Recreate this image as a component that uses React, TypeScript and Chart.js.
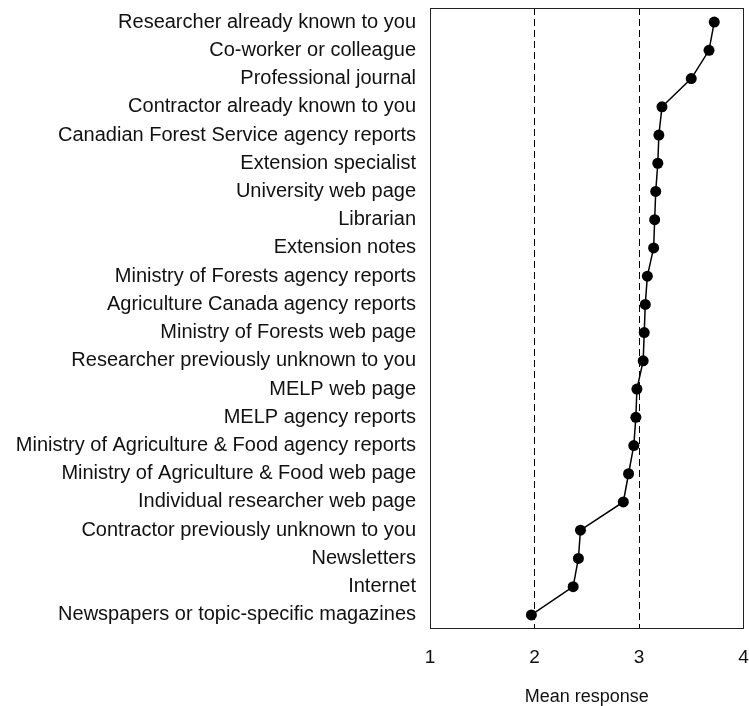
import React, { useEffect, useRef } from "react";
import { Chart, registerables } from "chart.js";

Chart.register(...registerables);

const categories: string[] = [
  "Researcher already known to you",
  "Co-worker or colleague",
  "Professional journal",
  "Contractor already known to you",
  "Canadian Forest Service agency reports",
  "Extension specialist",
  "University web page",
  "Librarian",
  "Extension notes",
  "Ministry of Forests agency reports",
  "Agriculture Canada agency reports",
  "Ministry of Forests web page",
  "Researcher previously unknown to you",
  "MELP web page",
  "MELP agency reports",
  "Ministry of Agriculture & Food agency reports",
  "Ministry of Agriculture & Food web page",
  "Individual researcher web page",
  "Contractor previously unknown to you",
  "Newsletters",
  "Internet",
  "Newspapers or topic-specific magazines",
];

const meanResponse: number[] = [
  3.72, 3.67, 3.5, 3.22, 3.19, 3.18, 3.16, 3.15, 3.14, 3.08, 3.06, 3.05, 3.04,
  2.98, 2.97, 2.95, 2.9, 2.85, 2.44, 2.42, 2.37, 1.97,
];

const xTicks: number[] = [1, 2, 3, 4];
const referenceLines: number[] = [2, 3];
const xTitle = "Mean response";

const FONT = "'Liberation Sans', Arial, sans-serif";

const framePlugin = {
  id: "frame",
  beforeDatasetsDraw(chart: any) {
    const { ctx, chartArea } = chart;
    ctx.save();
    ctx.strokeStyle = "#222";
    ctx.lineWidth = 1;
    ctx.setLineDash([]);
    ctx.strokeRect(
      Math.round(chartArea.left) + 0.5,
      Math.round(chartArea.top) + 0.5,
      Math.round(chartArea.right - chartArea.left) - 1,
      Math.round(chartArea.bottom - chartArea.top) - 1
    );
    ctx.restore();
  },
};

function zeroPadding(scale: any) {
  scale.paddingTop = 0;
  scale.paddingBottom = 0;
  scale.paddingLeft = 0;
  scale.paddingRight = 0;
}

export default function App() {
  const ref = useRef<HTMLCanvasElement | null>(null);

  useEffect(() => {
    if (!ref.current) return;
    const chart = new Chart(ref.current, {
      type: "line",
      data: {
        labels: categories,
        datasets: [
          {
            data: meanResponse,
            borderColor: "#000",
            borderWidth: 1.5,
            backgroundColor: "#000",
            pointBackgroundColor: "#000",
            pointBorderColor: "#000",
            pointRadius: 5.5,
            pointBorderWidth: 0,
            tension: 0,
            fill: false,
          },
        ],
      },
      plugins: [framePlugin],
      options: {
        responsive: false,
        animation: false,
        indexAxis: "y",
        layout: { padding: { top: 8, right: 1, bottom: 0, left: 0 } },
        plugins: {
          legend: { display: false },
          tooltip: { enabled: false },
        },
        scales: {
          y: {
            type: "category",
            labels: categories,
            offset: true,
            grid: { display: false, drawTicks: false },
            border: { display: false },
            ticks: {
              color: "#111",
              padding: 14,
              autoSkip: false,
              font: { family: FONT, size: 20 },
            },
            afterFit(scale: any) {
              scale.width = 430;
              zeroPadding(scale);
            },
          },
          x: {
            type: "linear",
            min: 1,
            max: 4,
            afterBuildTicks(scale: any) {
              scale.ticks = xTicks.map((v) => ({ value: v }));
            },
            grid: {
              drawTicks: false,
              lineWidth: 1,
              color: (ctx: any) =>
                ctx.tick && referenceLines.includes(ctx.tick.value)
                  ? "#000"
                  : "rgba(0,0,0,0)",
            },
            border: { display: false, dash: [7, 4] },
            ticks: {
              color: "#111",
              padding: 17,
              font: { family: FONT, size: 19 },
            },
            title: {
              display: true,
              text: xTitle,
              color: "#111",
              padding: { top: 0, bottom: 0 },
              font: { family: FONT, size: 18, lineHeight: 1 },
            },
            afterFit(scale: any) {
              scale.height = 77;
              zeroPadding(scale);
            },
          },
        },
      },
    } as any);
    return () => chart.destroy();
  }, []);

  return (
    <div style={{ position: "absolute", left: 0, top: 0, width: 749, height: 706, background: "#fff" }}>
      <canvas ref={ref} width={749} height={706} style={{ display: "block" }} />
    </div>
  );
}
